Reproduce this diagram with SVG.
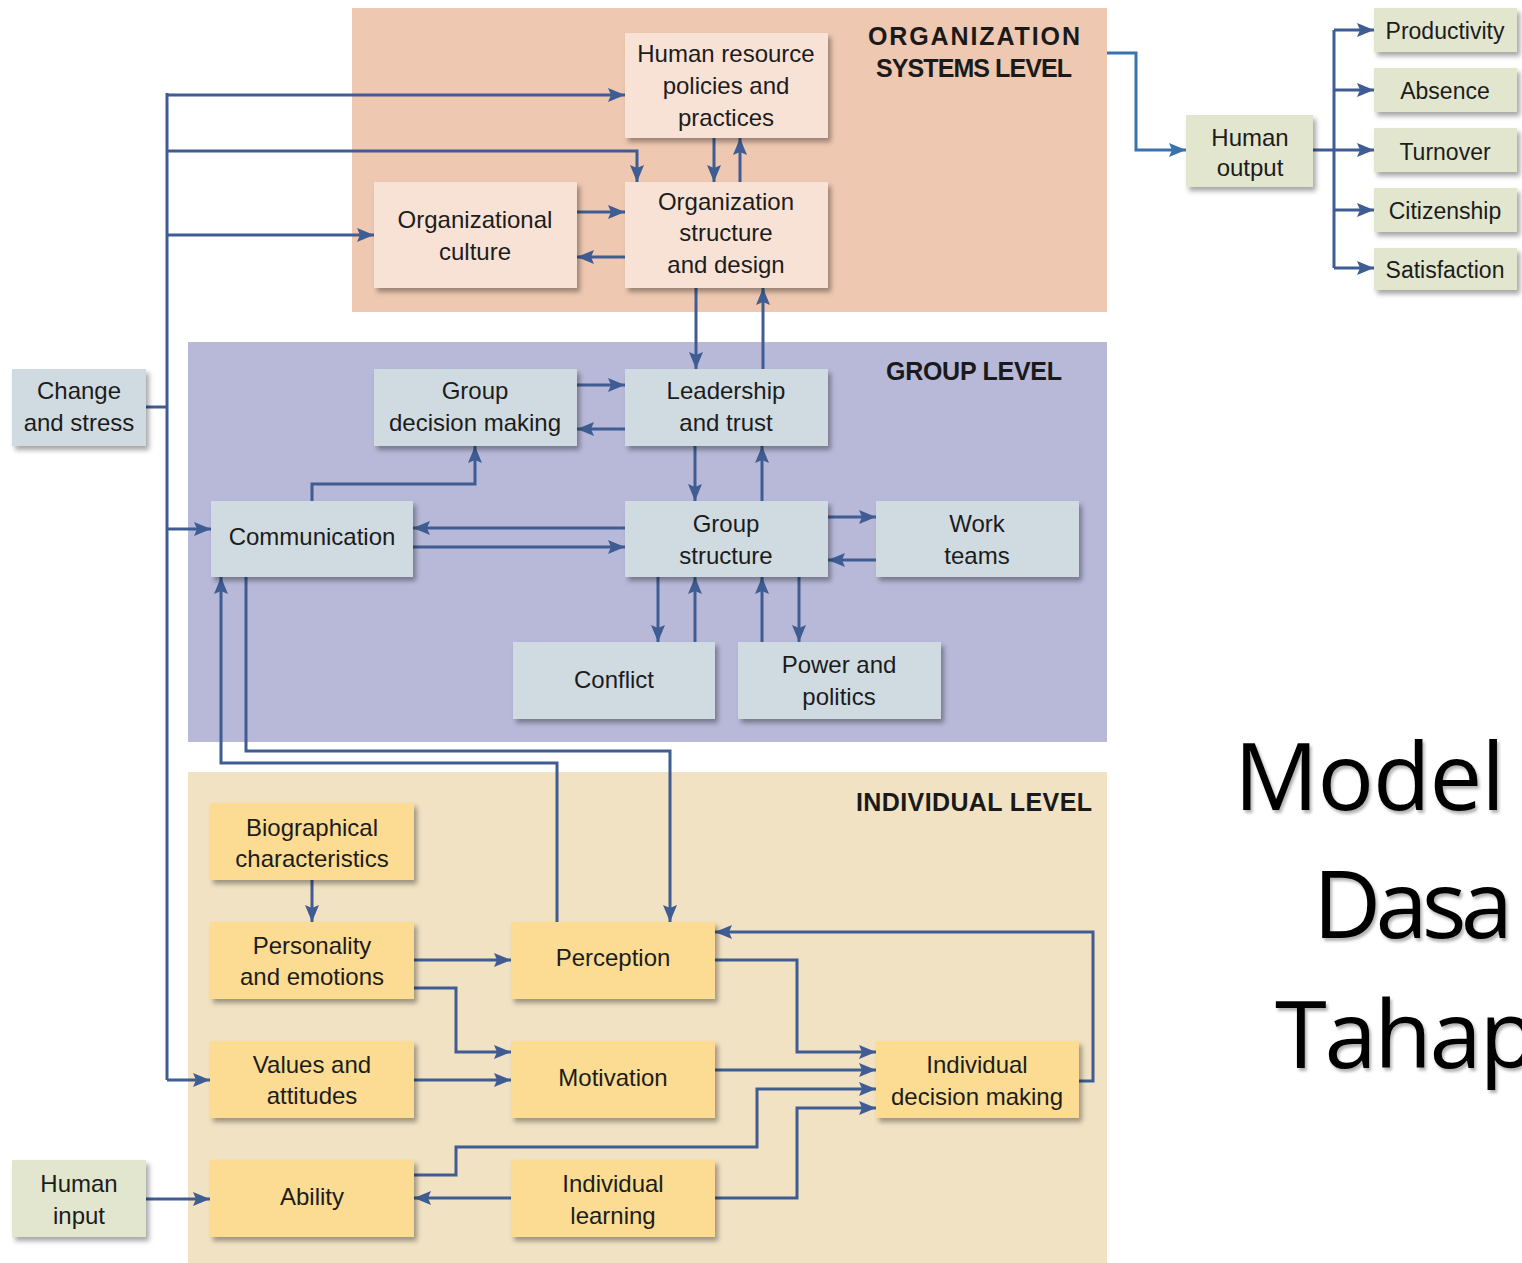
<svg xmlns="http://www.w3.org/2000/svg" width="1522" height="1263" viewBox="0 0 1522 1263">
<style>
.panel-org{fill:#eec8b1}
.panel-grp{fill:#b8b9d9}
.panel-ind{fill:#f1e2c3}
.n rect{filter:url(#sh)}
.org rect{fill:#f8e2d6}
.grp rect{fill:#d0dbe1}
.ind rect{fill:#fbdc92}
.ext rect{fill:#e2e6ce}
.n text{font-family:"Liberation Sans",Arial,sans-serif;font-size:24px;fill:#1c1c1c;text-anchor:middle}
.ext.s text{font-size:23px}
.title{font-family:"Liberation Sans",Arial,sans-serif;font-weight:bold;font-size:25px;fill:#1a1a1a;text-anchor:middle}
.big{font-family:"Open Sans","Noto Sans",sans-serif;font-size:94px;fill:#000;filter:url(#tsh)}
#connectors path{fill:none;stroke:#3f5d92;stroke-width:3}
#connectors path.a{marker-end:url(#ah)}
#connectors path.o{stroke:#3a72ae;marker-end:url(#ah2)}
</style>
<defs>
<filter id="sh" x="-10%" y="-10%" width="130%" height="140%">
<feDropShadow dx="3" dy="4" stdDeviation="2.5" flood-color="#000" flood-opacity="0.35"/>
</filter>
<filter id="tsh" x="-10%" y="-10%" width="130%" height="130%">
<feDropShadow dx="2" dy="3" stdDeviation="1.5" flood-color="#000" flood-opacity="0.3"/>
</filter>
<marker id="ah" markerWidth="18" markerHeight="16" refX="17" refY="8" orient="auto" markerUnits="userSpaceOnUse">
<path d="M0,1 L17,8 L0,15 L3,8 z" fill="#3f5d92"/>
</marker>
<marker id="ah2" markerWidth="18" markerHeight="16" refX="17" refY="8" orient="auto" markerUnits="userSpaceOnUse">
<path d="M0,1 L17,8 L0,15 L3,8 z" fill="#3a72ae"/>
</marker>
</defs>
<rect width="1522" height="1263" fill="#ffffff"/>
<rect class="panel-org" x="352" y="8" width="755" height="304"/>
<rect class="panel-grp" x="188" y="342" width="919" height="400"/>
<rect class="panel-ind" x="188" y="772" width="919" height="491"/>
<text class="title" x="974" y="45" textLength="212">ORGANIZATION</text>
<text class="title" x="974" y="77" textLength="196">SYSTEMS LEVEL</text>
<text class="title" x="974" y="380" textLength="176">GROUP LEVEL</text>
<text class="title" x="974" y="811" textLength="236">INDIVIDUAL LEVEL</text>

<g id="connectors">
<path class="a" d="M167,95 H625"/>
<path d="M167,93 V1080"/>
<path class="a" d="M167,151 H637 V182"/>
<path class="a" d="M167,235 H374"/>
<path d="M146,407 H167"/>
<path class="a" d="M167,529 H211"/>
<path class="a" d="M167,1080 H210"/>
<path class="a" d="M714,138 V182"/>
<path class="a" d="M740,182 V138"/>
<path class="a" d="M577,212 H625"/>
<path class="a" d="M625,257 H577"/>
<path class="a" d="M696,288 V369"/>
<path class="a" d="M763,369 V288"/>
<path class="o" d="M1107,53 H1136 V150 H1186"/>
<path d="M1313,150 H1334"/>
<path d="M1334,30 V268"/>
<path class="a" d="M1334,30 H1374"/>
<path class="a" d="M1334,90 H1374"/>
<path class="a" d="M1334,150 H1374"/>
<path class="a" d="M1334,210 H1374"/>
<path class="a" d="M1334,268 H1374"/>
<path class="a" d="M577,385 H625"/>
<path class="a" d="M625,429 H577"/>
<path class="a" d="M695,446 V501"/>
<path class="a" d="M762,501 V446"/>
<path class="a" d="M625,528 H413"/>
<path class="a" d="M413,547 H625"/>
<path class="a" d="M828,517 H876"/>
<path class="a" d="M876,560 H828"/>
<path class="a" d="M658,577 V642"/>
<path class="a" d="M695,642 V577"/>
<path class="a" d="M762,642 V577"/>
<path class="a" d="M799,577 V642"/>
<path class="a" d="M312,501 V484 H475 V446"/>
<path class="a" d="M557,922 V763 H221 V577"/>
<path class="a" d="M246,577 V751 H670 V922"/>
<path class="a" d="M312,880 V922"/>
<path class="a" d="M414,960 H511"/>
<path class="a" d="M414,988 H456 V1052 H511"/>
<path class="a" d="M414,1080 H511"/>
<path class="a" d="M715,960 H797 V1052 H876"/>
<path class="a" d="M715,1070 H876"/>
<path class="a" d="M414,1175 H456 V1147 H757 V1089 H876"/>
<path class="a" d="M715,1198 H797 V1108 H876"/>
<path class="a" d="M511,1198 H414"/>
<path class="a" d="M1079,1081 H1093 V932 H715"/>
<path class="a" d="M146,1199 H210"/>
</g>

<g id="hr" class="n org"><rect x="625" y="33" width="203" height="105"/><text x="726" y="62">Human resource</text><text x="726" y="94">policies and</text><text x="726" y="126">practices</text></g>
<g id="oc" class="n org"><rect x="374" y="182" width="203" height="106"/><text x="475" y="228">Organizational</text><text x="475" y="260">culture</text></g>
<g id="os" class="n org"><rect x="625" y="182" width="203" height="106"/><text x="726" y="210">Organization</text><text x="726" y="241">structure</text><text x="726" y="273">and design</text></g>

<g id="cs" class="n grp"><rect x="12" y="369" width="134" height="77"/><text x="79" y="399">Change</text><text x="79" y="431">and stress</text></g>
<g id="gdm" class="n grp"><rect x="374" y="369" width="203" height="77"/><text x="475" y="399">Group</text><text x="475" y="431">decision making</text></g>
<g id="lt" class="n grp"><rect x="625" y="369" width="203" height="77"/><text x="726" y="399">Leadership</text><text x="726" y="431">and trust</text></g>
<g id="comm" class="n grp"><rect x="211" y="501" width="202" height="76"/><text x="312" y="545">Communication</text></g>
<g id="gs" class="n grp"><rect x="625" y="501" width="203" height="76"/><text x="726" y="532">Group</text><text x="726" y="564">structure</text></g>
<g id="wt" class="n grp"><rect x="876" y="501" width="203" height="76"/><text x="977" y="532">Work</text><text x="977" y="564">teams</text></g>
<g id="conf" class="n grp"><rect x="513" y="642" width="202" height="77"/><text x="614" y="688">Conflict</text></g>
<g id="pp" class="n grp"><rect x="738" y="642" width="203" height="77"/><text x="839" y="673">Power and</text><text x="839" y="705">politics</text></g>

<g id="bio" class="n ind"><rect x="210" y="803" width="204" height="77"/><text x="312" y="836">Biographical</text><text x="312" y="867">characteristics</text></g>
<g id="pe" class="n ind"><rect x="210" y="922" width="204" height="77"/><text x="312" y="954">Personality</text><text x="312" y="985">and emotions</text></g>
<g id="perc" class="n ind"><rect x="511" y="922" width="204" height="77"/><text x="613" y="966">Perception</text></g>
<g id="va" class="n ind"><rect x="210" y="1041" width="204" height="77"/><text x="312" y="1073">Values and</text><text x="312" y="1104">attitudes</text></g>
<g id="mot" class="n ind"><rect x="511" y="1041" width="204" height="77"/><text x="613" y="1086">Motivation</text></g>
<g id="idm" class="n ind"><rect x="876" y="1041" width="203" height="77"/><text x="977" y="1073">Individual</text><text x="977" y="1105">decision making</text></g>
<g id="ab" class="n ind"><rect x="210" y="1160" width="204" height="77"/><text x="312" y="1205">Ability</text></g>
<g id="il" class="n ind"><rect x="511" y="1160" width="204" height="77"/><text x="613" y="1192">Individual</text><text x="613" y="1224">learning</text></g>
<g id="hi" class="n ext"><rect x="12" y="1160" width="134" height="77"/><text x="79" y="1192">Human</text><text x="79" y="1224">input</text></g>

<g id="ho" class="n ext"><rect x="1186" y="115" width="127" height="72"/><text x="1250" y="146">Human</text><text x="1250" y="176">output</text></g>
<g id="prod" class="n ext s"><rect x="1374" y="8" width="143" height="44"/><text x="1445" y="39">Productivity</text></g>
<g id="abs" class="n ext s"><rect x="1374" y="68" width="143" height="44"/><text x="1445" y="99">Absence</text></g>
<g id="turn" class="n ext s"><rect x="1374" y="128" width="143" height="44"/><text x="1445" y="160">Turnover</text></g>
<g id="cit" class="n ext s"><rect x="1374" y="188" width="143" height="44"/><text x="1445" y="219">Citizenship</text></g>
<g id="sat" class="n ext s"><rect x="1374" y="248" width="143" height="42"/><text x="1445" y="278">Satisfaction</text></g>

<text class="big" x="1234" y="810" textLength="271">Model</text>
<text class="big" x="1313" y="938" textLength="200">Dasa</text>
<text class="big" x="1275" y="1068" textLength="262">Tahap</text>
</svg>
